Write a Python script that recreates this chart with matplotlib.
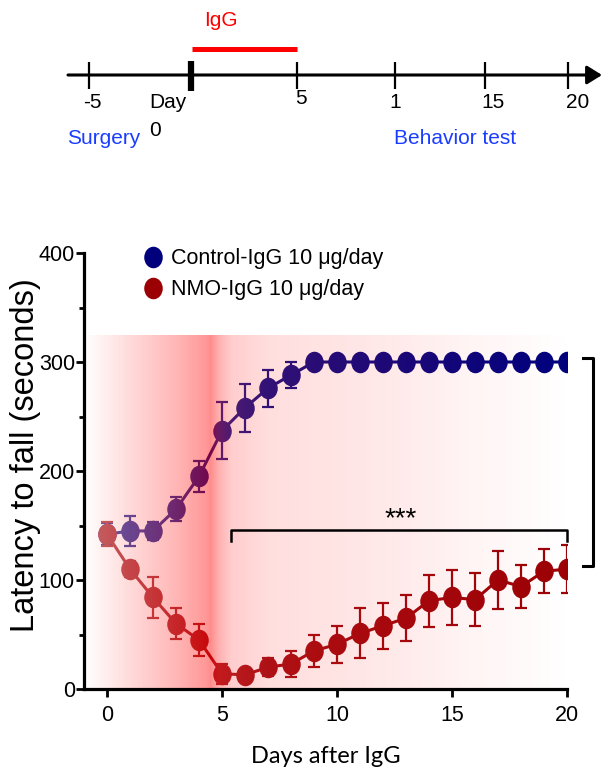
import numpy as np
import matplotlib.pyplot as plt
from matplotlib.path import Path
from matplotlib.lines import Line2D

# ---- data ----
days = list(range(21))
control_mean = [142, 145, 145, 165, 195, 237, 258, 276, 288, 300, 300,
                300, 300, 300, 300, 300, 300, 300, 300, 300, 300]
control_err = [10, 14, 8, 11, 14, 26, 22, 17, 12, 0, 0,
               0, 0, 0, 0, 0, 0, 0, 0, 0, 0]
nmo_mean = [142, 110, 84, 60, 45, 14, 13, 20, 23, 35, 41,
            51, 58, 65, 81, 84, 82, 100, 94, 108, 110]
nmo_err = [11, 7, 19, 14, 15, 9, 4, 8, 12, 15, 17,
           23, 21, 21, 24, 25, 24, 27, 20, 20, 22]
legend_labels = ['Control-IgG 10 \u03bcg/day', 'NMO-IgG 10 \u03bcg/day']

# timeline scheme (drawn in pixel units of the top panel)
tl_tick_x = [89, 191, 297, 395, 485, 568]
tl_labels = ['-5', 'Day', '5', '1', '15', '20']
tl_label_x = [92, 168, 301, 395, 493, 578]

NAVY = '#00007d'
DARKRED = '#9b0005'
ARIAL = ['Liberation Sans', 'DejaVu Sans']

fig = plt.figure(figsize=(6.02, 7.75), dpi=100)

# ---- timeline panel ----
tl = fig.add_axes([0, 1 - 170 / 775, 1, 170 / 775])
tl.set_xlim(0, 602)
tl.set_ylim(170, 0)
tl.axis('off')
tl.annotate('', xy=(602, 75), xytext=(68, 75),
            arrowprops=dict(arrowstyle='-|>,head_length=0.45,head_width=0.28',
                            lw=2.2, color='k', shrinkA=0, shrinkB=0,
                            mutation_scale=20))
for i, x in enumerate(tl_tick_x):
    if tl_labels[i] == 'Day':
        tl.plot([x, x], [61, 91], color='k', lw=4.5, solid_capstyle='butt')
    else:
        tl.plot([x, x], [62, 89], color='k', lw=1.6, solid_capstyle='butt')
    yy = 99 if tl_labels[i] == '5' else 103
    tl.text(tl_label_x[i], yy, tl_labels[i], ha='center', va='center',
            fontsize=15, family=ARIAL)
tl.plot([tl_tick_x[1] + 1, tl_tick_x[2]], [49, 49], color='#ff0000', lw=3.6,
        solid_capstyle='butt')
tl.text(221, 20, 'IgG', color='#ff0000', ha='center', va='center',
        fontsize=15, family=ARIAL)
tl.text(155, 131, '0', ha='center', va='center', fontsize=15, family=ARIAL)
tl.text(104, 138, 'Surgery', color='#1a3cff', ha='center', va='center',
        fontsize=15, family=ARIAL)
tl.text(455, 138, 'Behavior test', color='#1a3cff', ha='center', va='center',
        fontsize=15, family=ARIAL)

# ---- main plot ----
ax = fig.add_axes([84 / 602, 1 - 689 / 775, 483 / 602, 436 / 775])

# elliptic marker (image is slightly squeezed horizontally)
circ = Path.unit_circle()
ell = Path(circ.vertices * np.array([0.85, 1.0]), circ.codes)

ax.errorbar(days, control_mean, yerr=control_err, color=NAVY, lw=2.2,
            marker=ell, ms=14.5, capsize=4.5, elinewidth=1.6, capthick=1.6,
            zorder=3)
ax.errorbar(days, nmo_mean, yerr=nmo_err, color=DARKRED, lw=2.2,
            marker=ell, ms=14.5, capsize=4.5, elinewidth=1.6, capthick=1.6,
            zorder=3.1)

# red gradient band (overlaid, tints the symbols too)
gx = np.linspace(-1, 20, 800)
g_pts = [-1, -0.7, 1, 3, 4.3, 4.5, 4.85, 5.4, 7, 10, 13, 16, 19, 20]
g_val = [255, 250, 218, 182, 152, 140, 175, 205, 222, 228, 235, 245, 252, 255]
a_pts = [-1, 4.3, 4.6, 5.4, 7, 10, 13, 16, 19, 20]
a_val = [0.40, 0.45, 0.47, 0.30, 0.20, 0.15, 0.11, 0.06, 0.02, 0.01]
dark = 1 - np.interp(gx, g_pts, g_val) / 255
alpha = np.interp(gx, a_pts, a_val)
s = np.clip(dark / alpha, 0, 1)
img = np.zeros((1, gx.size, 4))
img[0, :, 0] = 1
img[0, :, 1] = 1 - s
img[0, :, 2] = 1 - s
img[0, :, 3] = alpha
ax.imshow(img, extent=[-1, 20, 0, 324], aspect='auto',
          interpolation='bilinear', zorder=4)

# significance brackets
ax.plot([5.4, 5.4, 20, 20], [136, 146, 146, 136], color='k', lw=1.8,
        zorder=6, clip_on=False)
ax.text(12.75, 144, '***', ha='center', va='bottom', fontsize=20,
        family=ARIAL, zorder=6)
ax.plot([20.7, 21.15, 21.15, 20.7], [304, 304, 113, 113], color='k', lw=2.2,
        zorder=6, clip_on=False)
ax.text(21.24, 205, '***', ha='left', va='center', rotation=270,
        fontsize=19, family=ARIAL, clip_on=False)

ax.set_xlim(-1, 20)
ax.set_ylim(0, 400)
ax.set_xticks([0, 5, 10, 15, 20])
ax.set_yticks([0, 100, 200, 300, 400])
ax.set_yticks([50, 150, 250, 350], minor=True)
for sp in ['top', 'right']:
    ax.spines[sp].set_visible(False)
for sp in ['left', 'bottom']:
    ax.spines[sp].set_linewidth(2.3)
    ax.spines[sp].set_zorder(5)
ax.tick_params(which='major', length=5.5, width=2.0, pad=1)
ax.tick_params(which='minor', length=3.5, width=2.0)
ax.tick_params(axis='x', pad=6)
for lab in ax.get_xticklabels() + ax.get_yticklabels():
    lab.set_fontsize(15.5)
    lab.set_family(ARIAL)

ax.set_ylabel('Latency to fall (seconds)', fontsize=23.5, family=ARIAL)
ax.yaxis.set_label_coords(-0.09, 0.537)
ax.set_xlabel('Days after IgG', fontsize=17, family=['Lato', 'DejaVu Sans'])
ax.xaxis.set_label_coords(0.5, -0.13)

handles = [Line2D([], [], ls='none', marker=ell, ms=14.5, color=NAVY),
           Line2D([], [], ls='none', marker=ell, ms=14.5, color=DARKRED)]
ax.legend(handles, legend_labels, loc='upper left',
          bbox_to_anchor=(0.08, 1.055), frameon=False, handlelength=1.0,
          handletextpad=0.35, labelspacing=0.45,
          prop={'family': ARIAL, 'size': 15.5})

fig.savefig('out.png', dpi=100)
